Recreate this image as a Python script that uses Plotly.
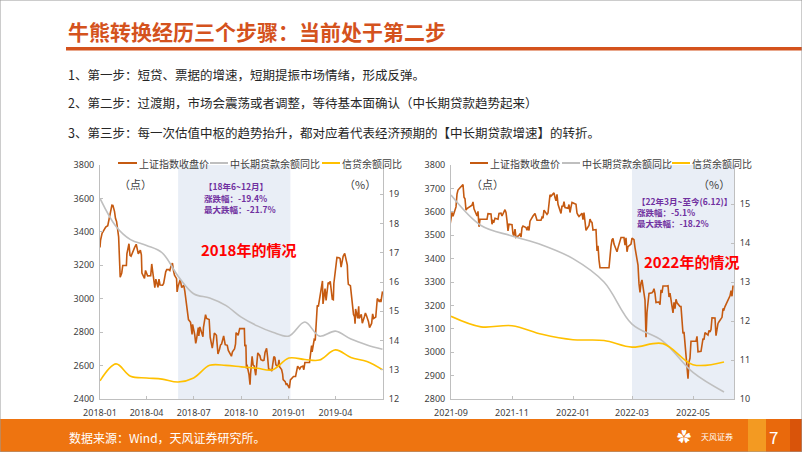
import plotly.graph_objects as go

# ---------------- DATA ----------------
sse18_dates = ["2018-01-01","2018-01-02","2018-01-05","2018-01-10","2018-01-12","2018-01-16","2018-01-19","2018-01-24","2018-01-26","2018-01-29","2018-01-31",
"2018-02-02","2018-02-06","2018-02-08","2018-02-09","2018-02-12","2018-02-14","2018-02-21","2018-02-22","2018-02-26","2018-02-28",
"2018-03-02","2018-03-06","2018-03-09","2018-03-12","2018-03-14","2018-03-16","2018-03-20","2018-03-22","2018-03-23","2018-03-26","2018-03-28","2018-03-30",
"2018-04-03","2018-04-09","2018-04-11","2018-04-13","2018-04-17","2018-04-19","2018-04-23","2018-04-25","2018-04-27",
"2018-05-02","2018-05-04","2018-05-08","2018-05-10","2018-05-14","2018-05-16","2018-05-18","2018-05-21","2018-05-23","2018-05-25","2018-05-29","2018-05-30",
"2018-06-01","2018-06-05","2018-06-08","2018-06-12","2018-06-14","2018-06-15","2018-06-19","2018-06-21","2018-06-25","2018-06-28","2018-06-29",
"2018-07-03","2018-07-05","2018-07-06","2018-07-10","2018-07-11","2018-07-13","2018-07-17","2018-07-19","2018-07-20","2018-07-24","2018-07-26","2018-07-31",
"2018-08-02","2018-08-06","2018-08-08","2018-08-10","2018-08-14","2018-08-16","2018-08-17","2018-08-20","2018-08-22","2018-08-24","2018-08-28","2018-08-31",
"2018-09-04","2018-09-06","2018-09-10","2018-09-12","2018-09-14","2018-09-18","2018-09-20","2018-09-21","2018-09-25","2018-09-28",
"2018-10-07","2018-10-08","2018-10-10","2018-10-11","2018-10-12","2018-10-16","2018-10-18","2018-10-19","2018-10-22","2018-10-24","2018-10-26","2018-10-29","2018-10-31",
"2018-11-02","2018-11-06","2018-11-08","2018-11-12","2018-11-14","2018-11-16","2018-11-19","2018-11-21","2018-11-23","2018-11-27","2018-11-29","2018-11-30",
"2018-12-03","2018-12-05","2018-12-07","2018-12-11","2018-12-13","2018-12-14","2018-12-18","2018-12-20","2018-12-21","2018-12-25","2018-12-27","2018-12-28",
"2019-01-02","2019-01-04","2019-01-08","2019-01-10","2019-01-14","2019-01-16","2019-01-18","2019-01-22","2019-01-24","2019-01-28","2019-01-30",
"2019-02-01","2019-02-10","2019-02-12","2019-02-14","2019-02-15","2019-02-19","2019-02-21","2019-02-22","2019-02-25","2019-02-27",
"2019-03-01","2019-03-05","2019-03-07","2019-03-08","2019-03-12","2019-03-14","2019-03-18","2019-03-20","2019-03-22","2019-03-26","2019-03-28","2019-03-29",
"2019-04-02","2019-04-04","2019-04-08","2019-04-10","2019-04-12","2019-04-16","2019-04-19","2019-04-22","2019-04-24","2019-04-25","2019-04-26","2019-04-30",
"2019-05-06","2019-05-08","2019-05-09","2019-05-10","2019-05-14","2019-05-16","2019-05-17","2019-05-21","2019-05-23","2019-05-27","2019-05-29","2019-05-31",
"2019-06-04","2019-06-06","2019-06-10","2019-06-12","2019-06-14","2019-06-18","2019-06-20","2019-06-21","2019-06-25","2019-06-27","2019-06-28","2019-07-01"]
sse18_vals = [3307,3349,3391,3421,3429,3437,3487,3559,3558,3523,3480,
3462,3370,3262,3129,3154,3199,3199,3268,3329,3259,
3254,3289,3307,3326,3291,3269,3290,3263,3153,3133,3122,3169,
3137,3138,3208,3159,3066,3117,3068,3117,3082,
3081,3091,3161,3174,3174,3169,3193,3213,3168,3141,3120,3041,
3075,3114,3067,3080,3044,3022,2908,2875,2859,2786,2847,
2786,2733,2747,2827,2777,2831,2798,2772,2829,2905,2882,2876,
2768,2705,2744,2795,2781,2705,2669,2698,2724,2729,2777,2725,
2721,2691,2669,2656,2682,2700,2729,2797,2781,2821,
2821,2716,2725,2583,2606,2546,2486,2550,2655,2603,2598,2542,2603,
2676,2659,2635,2630,2632,2679,2703,2650,2579,2575,2567,2588,
2654,2649,2605,2594,2634,2593,2576,2549,2516,2504,2483,2494,
2465,2514,2526,2535,2535,2570,2596,2579,2591,2597,2575,
2618,2618,2671,2719,2682,2756,2751,2804,2961,2953,
2994,3054,3106,2969,3060,2990,3096,3091,3104,2997,2994,3091,
3176,3247,3245,3241,3189,3254,3271,3215,3201,3124,3086,3078,
2906,2893,2850,2939,2883,2955,2882,2906,2853,2892,2914,2899,
2862,2827,2852,2909,2882,2890,2987,3001,2982,2996,2979,3044]

loan18_months = ["2018-01-01","2018-02-01","2018-03-01","2018-04-01","2018-05-01","2018-06-01","2018-07-01","2018-08-01","2018-09-01",
"2018-10-01","2018-11-01","2018-12-01","2019-01-01","2019-02-01","2019-03-01","2019-04-01","2019-05-01","2019-06-01","2019-07-01"]
midlong18 = [18.86,17.9,17.45,17.25,17.0,16.2,15.6,15.45,15.2,14.8,14.5,14.28,14.15,14.63,14.15,14.32,14.05,13.85,13.7]
credit18 = [12.62,13.2,12.78,12.72,12.68,12.58,12.72,13.15,13.15,13.1,13.05,13.0,13.4,13.35,13.33,13.68,13.42,13.28,13.0]

sse22_dates = ["2021-08-31","2021-09-01","2021-09-02","2021-09-03","2021-09-06","2021-09-07","2021-09-08","2021-09-10","2021-09-13","2021-09-14","2021-09-15","2021-09-16","2021-09-17",
"2021-09-22","2021-09-23","2021-09-24","2021-09-27","2021-09-28","2021-09-29","2021-09-30","2021-10-07","2021-10-08","2021-10-11","2021-10-12","2021-10-13","2021-10-14","2021-10-15",
"2021-10-18","2021-10-19","2021-10-21","2021-10-22","2021-10-25","2021-10-26","2021-10-27","2021-10-28","2021-10-29",
"2021-11-01","2021-11-02","2021-11-03","2021-11-04","2021-11-05","2021-11-08","2021-11-09","2021-11-10","2021-11-11","2021-11-12","2021-11-15","2021-11-16","2021-11-17","2021-11-18","2021-11-19",
"2021-11-22","2021-11-23","2021-11-24","2021-11-26","2021-11-29","2021-11-30",
"2021-12-01","2021-12-02","2021-12-03","2021-12-06","2021-12-07","2021-12-08","2021-12-09","2021-12-10","2021-12-13","2021-12-14","2021-12-15","2021-12-16","2021-12-17",
"2021-12-20","2021-12-21","2021-12-22","2021-12-23","2021-12-24","2021-12-27","2021-12-28","2021-12-29","2021-12-30","2021-12-31",
"2022-01-04","2022-01-05","2022-01-06","2022-01-07","2022-01-10","2022-01-11","2022-01-12","2022-01-13","2022-01-14","2022-01-17","2022-01-18","2022-01-19","2022-01-20","2022-01-21",
"2022-01-24","2022-01-25","2022-01-26","2022-01-27","2022-01-28","2022-02-06","2022-02-07","2022-02-08","2022-02-09","2022-02-10","2022-02-11",
"2022-02-14","2022-02-15","2022-02-16","2022-02-18","2022-02-21","2022-02-22","2022-02-23","2022-02-24","2022-02-25","2022-02-28",
"2022-03-01","2022-03-02","2022-03-03","2022-03-04","2022-03-07","2022-03-08","2022-03-09","2022-03-10","2022-03-11","2022-03-14","2022-03-15","2022-03-16","2022-03-17","2022-03-18",
"2022-03-21","2022-03-22","2022-03-23","2022-03-24","2022-03-25","2022-03-28","2022-03-29","2022-03-30","2022-03-31",
"2022-04-01","2022-04-05","2022-04-06","2022-04-07","2022-04-08","2022-04-11","2022-04-12","2022-04-13","2022-04-14","2022-04-15","2022-04-18","2022-04-19","2022-04-20","2022-04-21","2022-04-22",
"2022-04-25","2022-04-26","2022-04-27","2022-04-28","2022-04-29","2022-05-04","2022-05-05","2022-05-06","2022-05-09","2022-05-10","2022-05-11","2022-05-12","2022-05-13",
"2022-05-16","2022-05-17","2022-05-18","2022-05-19","2022-05-20","2022-05-23","2022-05-24","2022-05-25","2022-05-26","2022-05-27","2022-05-30","2022-05-31",
"2022-06-01","2022-06-02","2022-06-06","2022-06-07","2022-06-08","2022-06-09","2022-06-10"]
sse22_vals = [3544,3567,3597,3581,3621,3676,3693,3703,3716,3662,3656,3607,3614,
3628,3642,3613,3582,3602,3536,3568,3568,3592,3591,3547,3562,3558,3572,
3568,3593,3594,3582,3609,3597,3562,3518,3547,
3545,3505,3498,3526,3491,3499,3507,3492,3532,3539,3533,3521,3537,3520,3560,
3582,3589,3593,3564,3562,3564,
3577,3573,3607,3589,3595,3637,3673,3667,3681,3661,3647,3675,3632,
3593,3626,3622,3643,3618,3615,3631,3597,3620,3640,
3632,3595,3586,3580,3594,3567,3597,3555,3521,3542,3569,3558,3555,3522,
3524,3433,3455,3394,3361,3361,3429,3453,3480,3486,3462,
3429,3446,3465,3490,3490,3457,3489,3429,3451,3462,
3488,3484,3481,3447,3372,3293,3256,3296,3309,3223,3064,3171,3215,3251,
3254,3259,3271,3251,3212,3215,3203,3267,3253,
3283,3283,3284,3236,3252,3168,3213,3186,3226,3211,3195,3195,3151,3080,3087,
2929,2887,2958,2975,3047,3047,3068,3002,3004,3036,3058,3054,3084,
3073,3093,3086,3097,3147,3146,3071,3107,3123,3130,3149,3186,
3182,3195,3236,3241,3263,3239,3285]

loan22_months = ["2021-09-01","2021-10-01","2021-11-01","2021-12-01","2022-01-01","2022-02-01","2022-03-01","2022-04-01","2022-05-01","2022-06-01"]
midlong22 = [15.23,14.45,14.18,13.95,13.6,13.0,11.92,11.48,10.68,10.18]
credit22 = [12.12,11.85,11.88,11.66,11.52,11.5,11.33,11.42,10.88,10.95]

left_xticks = ["2018-01-01","2018-04-01","2018-07-01","2018-10-01","2019-01-01","2019-04-01"]
right_xticks = ["2021-09-01","2021-11-01","2022-01-01","2022-03-01","2022-05-01"]
left_range = ["2018-01-01", "2019-07-02"]
right_range = ["2021-09-01", "2022-06-11"]
shade18 = ["2018-06-01", "2019-01-04"]
shade22 = ["2022-03-01", "2022-06-11"]

series_names = ["上证指数收盘价", "中长期贷款余额同比", "信贷余额同比"]
title_text = "牛熊转换经历三个步骤：当前处于第二步"
bullets = ["1、第一步：短贷、票据的增速，短期提振市场情绪，形成反弹。",
           "2、第二步：过渡期，市场会震荡或者调整，等待基本面确认（中长期贷款趋势起来）",
           "3、第三步：每一次估值中枢的趋势抬升，都对应着代表经济预期的【中长期贷款增速】的转折。"]
note18 = ["【18年6~12月】", "涨跌幅：-19.4%", "最大跌幅：-21.7%"]
note22 = ["【22年3月~至今(6.12)】", "涨跌幅：-5.1%", "最大跌幅：-18.2%"]
source_text = "数据来源：Wind，天风证券研究所。"

# ---------------- STYLE ----------------
W, H = 802, 452
ORANGE = "#c55a11"
GRAY = "#bfbfbf"
YELLOW = "#ffc000"
PURPLE = "#7030a0"
TITLE_C = "#d4521d"
FONT = "Noto Sans CJK SC"
colors = [ORANGE, GRAY, YELLOW]

def px(x):
    return x / W

def py(y):
    return 1 - y / H

fig = go.Figure()
fig.add_trace(go.Scatter(x=sse18_dates, y=sse18_vals, mode="lines", line=dict(color=ORANGE, width=1.6),
                         xaxis="x", yaxis="y", showlegend=False))
fig.add_trace(go.Scatter(x=loan18_months, y=midlong18, mode="lines", line=dict(color=GRAY, width=1.6, shape="spline"),
                         xaxis="x", yaxis="y2", showlegend=False))
fig.add_trace(go.Scatter(x=loan18_months, y=credit18, mode="lines", line=dict(color=YELLOW, width=1.6, shape="spline"),
                         xaxis="x", yaxis="y2", showlegend=False))
fig.add_trace(go.Scatter(x=sse22_dates, y=sse22_vals, mode="lines", line=dict(color=ORANGE, width=1.6),
                         xaxis="x2", yaxis="y3", showlegend=False))
fig.add_trace(go.Scatter(x=loan22_months, y=midlong22, mode="lines", line=dict(color=GRAY, width=1.6, shape="spline"),
                         xaxis="x2", yaxis="y4", showlegend=False))
fig.add_trace(go.Scatter(x=loan22_months, y=credit22, mode="lines", line=dict(color=YELLOW, width=1.6, shape="spline"),
                         xaxis="x2", yaxis="y4", showlegend=False))

tickfont = dict(family="Noto Sans", size=9, color="#404040")
axis_common = dict(showline=True, linecolor="#bfbfbf", linewidth=1, showgrid=False, zeroline=False,
                   ticks="inside", ticklen=3, tickcolor="#bfbfbf", tickfont=tickfont, fixedrange=True,
                   automargin=False)
xstyle = dict(axis_common, ticklabelstandoff=5)
ystyle = dict(axis_common, ticklabelstandoff=3)
ydom = [py(399), py(165)]

fig.update_layout(
    width=W, height=H, margin=dict(l=0, r=0, t=0, b=0, pad=0, autoexpand=False),
    paper_bgcolor="white", plot_bgcolor="rgba(0,0,0,0)", showlegend=False,
    xaxis=dict(domain=[px(100), px(383)], type="date", range=left_range, tickvals=left_xticks,
               tickformat="%Y-%m", anchor="y", **xstyle),
    yaxis=dict(domain=ydom, range=[2400, 3800], dtick=200, anchor="x", **ystyle),
    yaxis2=dict(overlaying="y", side="right", range=[12, 20], tickvals=list(range(12, 20)), anchor="x", **ystyle),
    xaxis2=dict(domain=[px(451), px(734)], type="date", range=right_range, tickvals=right_xticks,
                tickformat="%Y-%m", anchor="y3", **xstyle),
    yaxis3=dict(domain=ydom, range=[2800, 3800], dtick=100, anchor="x2", **ystyle),
    yaxis4=dict(overlaying="y3", side="right", range=[10, 16], tickvals=list(range(10, 16)), anchor="x2", **ystyle),
)

shapes = []
# shaded periods
shapes.append(dict(type="rect", xref="x", yref="y domain", x0=shade18[0], x1=shade18[1], y0=0, y1=1,
                   fillcolor="#e9eef6", line=dict(width=0), layer="below"))
shapes.append(dict(type="rect", xref="x2", yref="y3 domain", x0=shade22[0], x1=shade22[1], y0=0, y1=1,
                   fillcolor="#e9eef6", line=dict(width=0), layer="below"))
# title rule
shapes.append(dict(type="rect", xref="paper", yref="paper", x0=px(66), x1=1, y0=py(50.5), y1=py(47),
                   fillcolor=TITLE_C, line=dict(width=0)))
# footer
shapes.append(dict(type="rect", xref="paper", yref="paper", x0=0, x1=1, y0=0, y1=py(419),
                   fillcolor="#ee7410", line=dict(width=0)))
shapes.append(dict(type="rect", xref="paper", yref="paper", x0=px(748), x1=px(766), y0=0, y1=py(419),
                   fillcolor="#f39a22", line=dict(width=0)))
shapes.append(dict(type="rect", xref="paper", yref="paper", x0=px(766), x1=px(790), y0=0, y1=py(419),
                   fillcolor="#e9690c", line=dict(width=0)))
shapes.append(dict(type="rect", xref="paper", yref="paper", x0=px(790), x1=1, y0=0, y1=py(419),
                   fillcolor="#d9540a", line=dict(width=0)))
# border
shapes.append(dict(type="rect", xref="paper", yref="paper", x0=0, x1=1, y0=0, y1=1,
                   fillcolor="rgba(0,0,0,0)", line=dict(width=1, color="#9a9a9a")))

annotations = []
def text(x, y, s, size=10, color="#404040", anchor="left", bold=False):
    annotations.append(dict(xref="paper", yref="paper", x=px(x), y=py(y), text=("<b>%s</b>" % s) if bold else s,
                            showarrow=False, xanchor=anchor, yanchor="middle", borderpad=0,
                            font=dict(family=FONT, size=size, color=color)))

# manual legends
def legend(x_positions, y):
    for (x0, x1), name, c in zip(x_positions, series_names, colors):
        shapes.append(dict(type="line", xref="paper", yref="paper", x0=px(x0), x1=px(x1), y0=py(y), y1=py(y),
                           line=dict(color=c, width=2)))
        text(x1 + 1, y, name, size=10)

legend([(118, 137), (210, 228), (322, 340)], 163)
legend([(470, 488), (562, 580), (672, 690)], 163)

# title & bullets
text(67, 31, title_text, size=21, color=TITLE_C, bold=True)
for i, b in enumerate(bullets):
    text(67, 74 + 29 * i, b, size=12.5, color="#262626")

# unit labels
text(118, 184, "（点）", size=11)
text(343, 184, "（%）", size=11)
text(470, 184, "（点）", size=11)
text(697, 184, "（%）", size=11)

# notes
for i, s in enumerate(note18):
    text(203, 186 + 11.5 * i, s, size=8.5, color=PURPLE, bold=True)
for i, s in enumerate(note22):
    text(636, 201 + 11 * i, s, size=8.5, color=PURPLE, bold=True)
text(249, 249, "2018年的情况", size=15, color="#ff0000", anchor="center", bold=True)
text(691, 261, "2022年的情况", size=15, color="#ff0000", anchor="center", bold=True)

# footer texts
text(68, 437, source_text, size=12, color="white")
text(700, 436, "天风证券", size=8, color="white")
text(684, 436, "✿", size=14, color="white", anchor="center")
text(773, 436, "7", size=17, color="white", anchor="center")

fig.update_layout(shapes=shapes, annotations=annotations)
fig.write_html("out.html", config={"displayModeBar": False},
               post_script="document.body.style.margin='0';document.body.style.padding='0';document.body.style.overflow='hidden';")
